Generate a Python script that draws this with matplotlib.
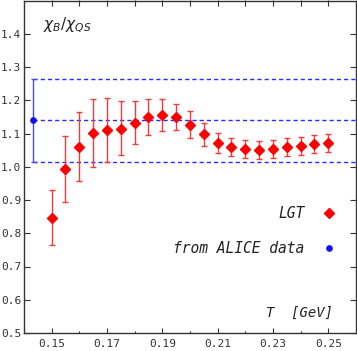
import matplotlib
matplotlib.use("Agg")
import matplotlib.pyplot as plt
from matplotlib.lines import Line2D
import numpy as np

# LGT points: temperature, ratio, upper and lower ends of the error bar
T_lgt = [0.150, 0.155, 0.160, 0.165, 0.170, 0.175, 0.180, 0.185, 0.190, 0.195, 0.200,
         0.205, 0.210, 0.215, 0.220, 0.225, 0.230, 0.235, 0.240, 0.245, 0.250]
r_lgt = [0.847, 0.993, 1.060, 1.100, 1.112, 1.115, 1.133, 1.150, 1.157, 1.150, 1.127,
         1.098, 1.072, 1.059, 1.053, 1.051, 1.053, 1.058, 1.063, 1.068, 1.072]
r_hi = [0.930, 1.092, 1.165, 1.203, 1.208, 1.197, 1.198, 1.205, 1.205, 1.188, 1.168,
        1.133, 1.103, 1.085, 1.080, 1.078, 1.079, 1.085, 1.090, 1.094, 1.098]
r_lo = [0.765, 0.893, 0.956, 0.998, 1.015, 1.034, 1.068, 1.096, 1.109, 1.110, 1.086,
        1.062, 1.040, 1.032, 1.025, 1.023, 1.026, 1.031, 1.035, 1.040, 1.043]

# ALICE estimate
T_alice = 0.1433
r_alice = 1.14
err_alice = 0.125

r_lgt = np.array(r_lgt)
yerr = [r_lgt - np.array(r_lo), np.array(r_hi) - r_lgt]

fig = plt.figure(figsize=(3.57, 3.51), dpi=100)
ax = fig.add_axes([24 / 357, 1 - 333 / 351, 332 / 357, 332.5 / 351])

# band from the ALICE value
for y in [r_alice - err_alice, r_alice, r_alice + err_alice]:
    ax.plot([T_alice, 0.26], [y, y], color='#2a2aff', lw=1, dashes=(3, 2.2))

ax.errorbar(T_lgt, r_lgt, yerr=yerr, fmt='D', color='red', ms=5, mec='red',
            ecolor='#f23a3a', elinewidth=1, capsize=2.2, capthick=1)
ax.errorbar([T_alice], [r_alice], yerr=[err_alice], fmt='o', color='#1010ee', ms=3.8,
            ecolor='#4a4aee', elinewidth=1, capsize=1.8, capthick=1)

ax.set_xlim(0.14, 0.26)
ax.set_ylim(0.5, 1.5)
ax.set_xticks(np.arange(0.15, 0.2501, 0.02))
ax.set_xticks(np.arange(0.16, 0.2401, 0.02), minor=True)
ax.set_yticks(np.arange(0.5, 1.41, 0.1))
ax.set_xticklabels(['0.15', '0.17', '0.19', '0.21', '0.23', '0.25'])
ax.set_yticklabels(['0.5', '0.6', '0.7', '0.8', '0.9', '1.0', '1.1', '1.2', '1.3', '1.4'])

for lab in ax.get_xticklabels() + ax.get_yticklabels():
    lab.set_fontfamily('DejaVu Sans Mono')
    lab.set_fontsize(8)
    lab.set_color('#333333')

ax.tick_params(axis='x', which='major', direction='in', length=3.6, width=0.8,
               color='#333333', pad=4)
ax.tick_params(axis='x', which='minor', direction='in', length=1.8, width=0.8,
               color='#333333')
ax.tick_params(axis='y', which='major', direction='in', length=4, width=0.8,
               color='#333333', right=True, pad=2)

top = ax.secondary_xaxis('top')
top.set_xticks(np.arange(0.15, 0.2501, 0.01))
top.tick_params(direction='in', length=4, width=0.8, color='#333333', labeltop=False)
top.spines['top'].set_visible(False)

for s in ax.spines.values():
    s.set_color('#333333')
    s.set_linewidth(1)

ax.text(0.057, 0.925, r'$\chi_B/\chi_{QS}$', transform=ax.transAxes, fontsize=11,
        ha='left', va='center', color='#222222')
ax.text(0.93, 0.06, 'T  [GeV]', transform=ax.transAxes, fontsize=10, style='italic',
        family='DejaVu Sans Mono', ha='right', va='center', color='#222222')

handles = [Line2D([], [], ls='none', marker='D', ms=5, color='red'),
           Line2D([], [], ls='none', marker='o', ms=3.8, color='#1010ee')]
leg = ax.legend(handles, ['LGT', 'from ALICE data'], loc='upper right',
                bbox_to_anchor=(0.94, 0.382), markerfirst=False, frameon=False,
                prop={'family': 'DejaVu Sans Mono', 'style': 'italic', 'size': 10.5},
                handlelength=1.0, handletextpad=1.15, labelspacing=1.35,
                borderpad=0, borderaxespad=0)
for t in leg.get_texts():
    t.set_color('#222222')

fig.savefig('out.png', dpi=100)
